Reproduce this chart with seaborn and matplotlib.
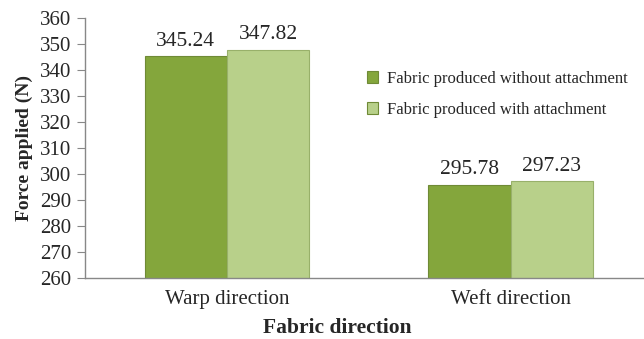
import pandas as pd
import matplotlib
matplotlib.use('Agg')
import matplotlib.pyplot as plt
import seaborn as sns

# Chart data
directions = ['Warp direction', 'Weft direction']
without_attachment = [345.24, 295.78]
with_attachment = [347.82, 297.23]
series_names = ['Fabric produced without attachment', 'Fabric produced with attachment']
y_ticks = list(range(260, 361, 10))

df = pd.DataFrame({
    'Direction': directions * 2,
    'Force': without_attachment + with_attachment,
    'Series': [series_names[0]] * 2 + [series_names[1]] * 2,
})

sns.set_style('white')
plt.rcParams['font.family'] = ['Liberation Serif', 'DejaVu Serif']

fig = plt.figure(figsize=(6.44, 3.39), dpi=100)
ax = fig.add_axes([0.132, 0.18, 0.868, 0.767])

palette = ['#84a63c', '#b8d08a']
sns.barplot(data=df, x='Direction', y='Force', hue='Series', palette=palette,
            width=0.58, saturation=1, ax=ax, edgecolor='#6f8a36', linewidth=0.8)

# the lighter bars get a softer edge
for patch in ax.containers[1]:
    patch.set_edgecolor('#98b06a')

for cont in ax.containers:
    ax.bar_label(cont, fmt='%.2f', padding=4, fontsize=15.5)

ax.set_ylim(260, 360)
ax.set_yticks(y_ticks)
ax.set_xlim(-0.5, 1.47)
ax.tick_params(axis='y', labelsize=15, length=6, color='#888888', direction='out', left=True, pad=4)
ax.tick_params(axis='x', labelsize=15, length=0, pad=9)

for side in ['top', 'right']:
    ax.spines[side].set_visible(False)
for side in ['left', 'bottom']:
    ax.spines[side].set_color('#888888')
    ax.spines[side].set_linewidth(1)

ax.set_ylabel('Force applied (N)', fontsize=14, fontweight='bold', labelpad=5)
ax.set_xlabel('Fabric direction', fontsize=15.5, fontweight='bold')
ax.xaxis.set_label_coords(0.451, -0.155)

handles, labels = ax.get_legend_handles_labels()
ax.legend(handles, labels, loc='upper left', bbox_to_anchor=(0.546, 0.835),
          bbox_transform=fig.transFigure, frameon=False, fontsize=12,
          handlelength=0.7, handleheight=0.7, handletextpad=0.5, labelspacing=0.9)

fig.savefig('out.png', dpi=100)
